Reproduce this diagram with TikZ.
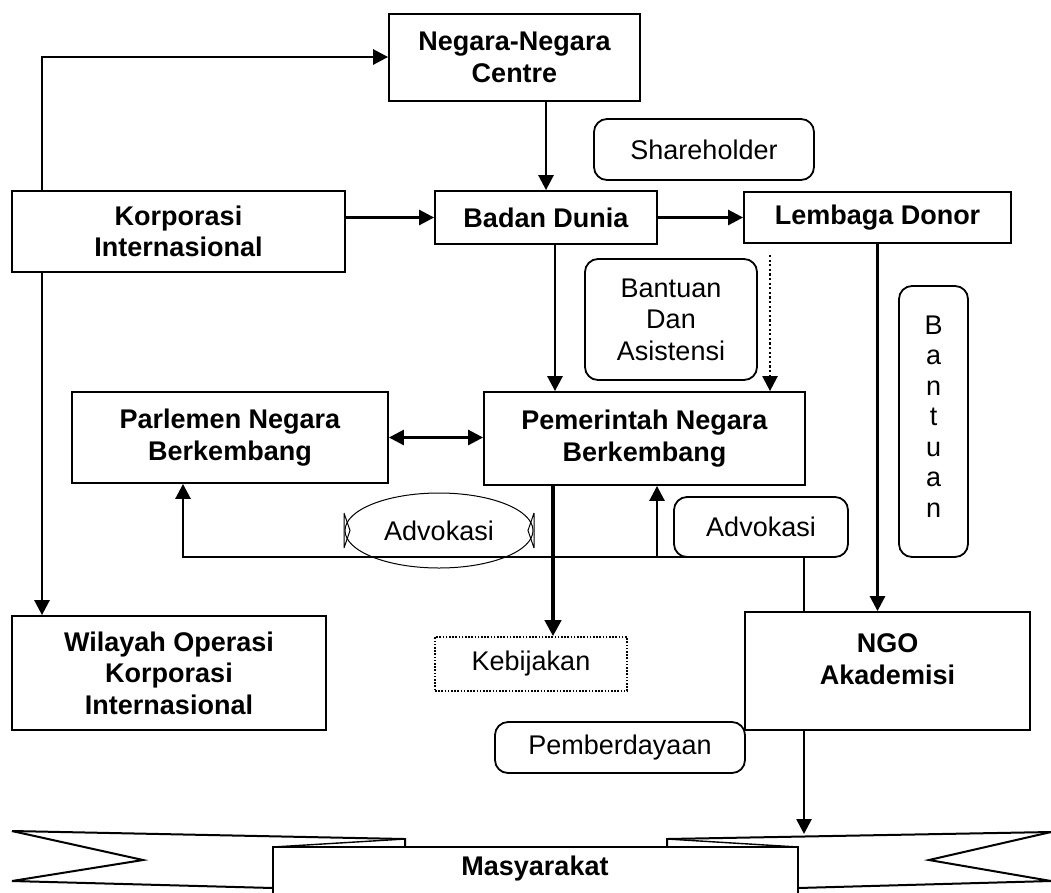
\documentclass[tikz,border=0pt]{standalone}
\usepackage{fontspec}
\setmainfont{Liberation Sans}
\usetikzlibrary{arrows.meta,shapes.geometric}
\begin{document}
\begin{tikzpicture}[x=1pt,y=-1pt,
  txt/.style={font=\fontsize{27}{31.5}\selectfont},
  btxt/.style={font=\fontsize{27}{31.5}\selectfont\bfseries},
  box/.style={draw, line width=1.8pt, inner sep=0pt, align=center, btxt},
  rbox/.style={draw, line width=1.8pt, rounded corners=13pt, inner sep=0pt, align=center, txt},
  tip/.tip={Triangle[length=15pt,width=15pt]},
  arr/.style={line width=2.7pt, -tip},
  darr/.style={line width=2.4pt, dash pattern=on 2.2pt off 2.4pt, -tip},
  karr/.style={line width=3.8pt, -{Triangle[length=16pt,width=16pt]}},
  rib/.style={line width=2pt, line join=miter}]
\useasboundingbox (0,0) rectangle (1051,892);

% boxes
\node[box, minimum width=251pt, minimum height=87pt] (ncentre) at (514.5,57.5) {Negara-Negara\\Centre};
\node[box, minimum width=333pt, minimum height=81pt] (korp) at (178.5,231.5) {Korporasi\\Internasional};
\node[rbox, minimum width=220pt, minimum height=61pt] (share) at (704,149.5) {Shareholder};
\node[box, minimum width=222pt, minimum height=53pt] (badan) at (546,217.5) {Badan Dunia};
\node[box, minimum width=267pt, minimum height=51pt] (lembaga) at (877.5,217.5) {Lembaga Donor};
\node[rbox, minimum width=172pt, minimum height=121pt] (basis) at (671,319.5) {Bantuan\\Dan\\Asistensi};
\node[box, minimum width=321pt, minimum height=93pt] (pem) at (644.5,438.5) {Pemerintah Negara\\Berkembang};
\node[box, minimum width=316pt, minimum height=91pt] (parl) at (230,437.5) {Parlemen Negara\\Berkembang};
\node[rbox, minimum width=69pt, minimum height=271pt, font=\fontsize{27}{30.5}\selectfont,
  label={[font=\fontsize{27}{30.5}\selectfont, align=center, yshift=5pt]center:B\\a\\n\\t\\u\\a\\n}] (bvert) at (933.5,421.5) {};
\node[rbox, minimum width=174pt, minimum height=60pt] (adv2) at (761,527) {Advokasi};
\node[draw, ellipse, line width=1pt, inner sep=0pt, minimum width=188pt, minimum height=75pt, txt] (adv1) at (439,530.5) {Advokasi};
\node[draw, line width=1.6pt, dash pattern=on 1.6pt off 1.6pt, inner sep=0pt, minimum width=192pt, minimum height=54pt, txt] (keb) at (531,664) {Kebijakan};
\node[rbox, minimum width=250pt, minimum height=51pt] (pemb) at (620,747.5) {Pemberdayaan};
\node[box, minimum width=314pt, minimum height=114pt] (wil) at (169,673) {Wilayah Operasi\\Korporasi\\Internasional};
\node[box, minimum width=285pt, minimum height=118pt,
  label={[btxt, align=center, yshift=12pt]center:NGO\\Akademisi}] (ngo) at (887.5,671) {};

% ellipse side marks
\draw[line width=1pt] (344,513) -- (344,548) (344,513) -- (350,530.5) -- (344,548);
\draw[line width=1pt] (534,513) -- (534,548) (534,513) -- (528,530.5) -- (534,548);

% ribbon (Masyarakat)
\draw[rib] (12,831) -- (405,839) -- (405,847);
\draw[rib] (12,831) -- (143,860) -- (12,881) -- (273,888);
\draw[rib, line width=1.4pt] (273,847) -- (405,839);
\draw[rib] (1051,832) -- (667,839) -- (667,847);
\draw[rib] (1051,832) -- (929,860) -- (1051,881) -- (798,888);
\draw[rib, line width=1.4pt] (798,847) -- (667,839);
\draw[rib] (273,896) -- (273,847) -- (798,847) -- (798,896);
\node[btxt] (mas) at (535,869) {Masyarakat};
\coordinate (ribtop) at (804,834);

% coordinates for connector columns
\coordinate (kl) at (42,0);
\coordinate (bx) at (555,0);
\coordinate (dtop) at (770,255);
\coordinate (j1) at (804,557);
\coordinate (j2) at (657,557);
\coordinate (pl) at (183,0);
\coordinate (kx) at (553,0);

% connectors
\draw[arr] (korp.north -| kl) |- (ncentre.west |- 0,57);
\draw[arr] (badan.north |- ncentre.south) -- (badan.north);
\draw[arr] (korp.east |- badan.west) -- (badan.west);
\draw[arr] (badan.east) -- (lembaga.west);
\draw[arr] (badan.south -| bx) -- (pem.north -| bx);
\draw[darr] (dtop) -- (dtop |- pem.north);
\draw[arr] (lembaga.south) -- (lembaga.south |- ngo.north);
\draw[line width=2.7pt, tip-tip] (parl.east) -- (parl.east -| pem.west);
\draw[arr] (ngo.north -| j1) -- (j1) -| (parl.south -| pl);
\draw[arr] (j2) -- (j2 |- pem.south);
\draw[karr] (pem.south -| kx) -- (keb.north -| kx);
\draw[arr] (korp.south -| kl) -- (wil.north -| kl);
\draw[arr] (ngo.south -| j1) -- (ribtop);
\end{tikzpicture}
\end{document}
